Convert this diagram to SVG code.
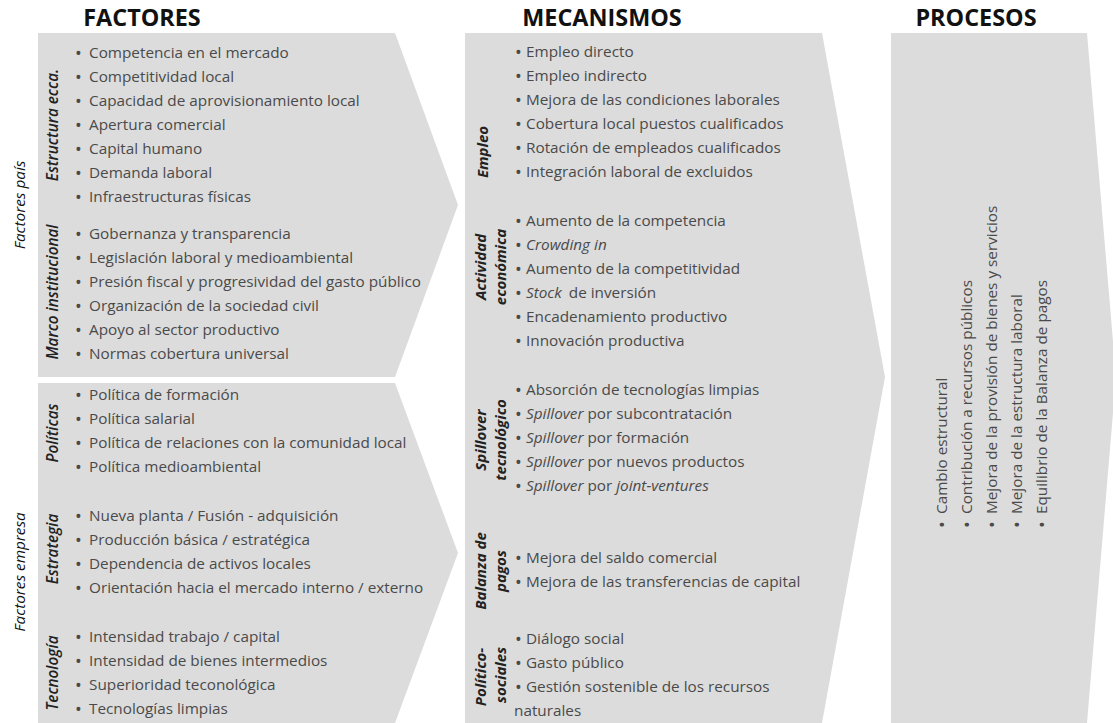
<svg xmlns="http://www.w3.org/2000/svg" width="1113" height="723" viewBox="0 0 1113 723">
<style>
text{font-family:"Open Sans","Liberation Sans",sans-serif}
.shape{fill:#dcdcdc}
.hdr{font-size:23.4px;font-weight:700;fill:#111;text-anchor:middle}
.it{font-size:15.3px;font-weight:500;fill:#4a4a4a}
.b{font-size:18px;baseline-shift:-2px}
.i{font-style:italic}
.grp{font-size:15.3px;font-style:italic;fill:#111;text-anchor:middle}
.sub{font-size:15.3px;font-style:italic;font-weight:600;fill:#222;text-anchor:middle}
.msub{font-size:15px;font-style:italic;font-weight:700;fill:#222;text-anchor:middle}
</style>
<rect width="1113" height="723" fill="#ffffff"/>

<g id="headers">
<text class="hdr" x="142" y="26">FACTORES</text>
<text class="hdr" x="602" y="26">MECANISMOS</text>
<text class="hdr" x="976" y="26">PROCESOS</text>
</g>

<g id="factores-pais">
<polygon class="shape" points="38,33 395,33 458,205 395,377 38,377"/>
<text class="grp" transform="translate(25,205) rotate(-90)">Factores país</text>
<text class="sub" transform="translate(58,125) rotate(-90)">Estructura ecca.</text>
<text class="sub" transform="translate(58,292) rotate(-90)">Marco institucional</text>
<g class="it">
<text y="58"><tspan x="75" class="b">•</tspan><tspan x="89">Competencia en el mercado</tspan></text>
<text y="82"><tspan x="75" class="b">•</tspan><tspan x="89">Competitividad local</tspan></text>
<text y="106"><tspan x="75" class="b">•</tspan><tspan x="89">Capacidad de aprovisionamiento local</tspan></text>
<text y="130"><tspan x="75" class="b">•</tspan><tspan x="89">Apertura comercial</tspan></text>
<text y="154"><tspan x="75" class="b">•</tspan><tspan x="89">Capital humano</tspan></text>
<text y="178"><tspan x="75" class="b">•</tspan><tspan x="89">Demanda laboral</tspan></text>
<text y="202"><tspan x="75" class="b">•</tspan><tspan x="89">Infraestructuras físicas</tspan></text>
<text y="239"><tspan x="75" class="b">•</tspan><tspan x="89">Gobernanza y transparencia</tspan></text>
<text y="263"><tspan x="75" class="b">•</tspan><tspan x="89">Legislación laboral y medioambiental</tspan></text>
<text y="287"><tspan x="75" class="b">•</tspan><tspan x="89">Presión fiscal y progresividad del gasto público</tspan></text>
<text y="311"><tspan x="75" class="b">•</tspan><tspan x="89">Organización de la sociedad civil</tspan></text>
<text y="335"><tspan x="75" class="b">•</tspan><tspan x="89">Apoyo al sector productivo</tspan></text>
<text y="359"><tspan x="75" class="b">•</tspan><tspan x="89">Normas cobertura universal</tspan></text>
</g>
</g>

<g id="factores-empresa">
<polygon class="shape" points="38,383 395,383 458,553 395,723 38,723"/>
<text class="grp" transform="translate(25,572) rotate(-90)">Factores empresa</text>
<text class="sub" transform="translate(58,433) rotate(-90)">Políticas</text>
<text class="sub" transform="translate(58,549) rotate(-90)">Estrategia</text>
<text class="sub" transform="translate(58,673) rotate(-90)">Tecnología</text>
<g class="it">
<text y="400"><tspan x="75" class="b">•</tspan><tspan x="89">Política de formación</tspan></text>
<text y="424"><tspan x="75" class="b">•</tspan><tspan x="89">Política salarial</tspan></text>
<text y="448"><tspan x="75" class="b">•</tspan><tspan x="89">Política de relaciones con la comunidad local</tspan></text>
<text y="472"><tspan x="75" class="b">•</tspan><tspan x="89">Política medioambiental</tspan></text>
<text y="521"><tspan x="75" class="b">•</tspan><tspan x="89">Nueva planta / Fusión - adquisición</tspan></text>
<text y="545"><tspan x="75" class="b">•</tspan><tspan x="89">Producción básica / estratégica</tspan></text>
<text y="569"><tspan x="75" class="b">•</tspan><tspan x="89">Dependencia de activos locales</tspan></text>
<text y="593"><tspan x="75" class="b">•</tspan><tspan x="89">Orientación hacia el mercado interno / externo</tspan></text>
<text y="642"><tspan x="75" class="b">•</tspan><tspan x="89">Intensidad trabajo / capital</tspan></text>
<text y="666"><tspan x="75" class="b">•</tspan><tspan x="89">Intensidad de bienes intermedios</tspan></text>
<text y="690"><tspan x="75" class="b">•</tspan><tspan x="89">Superioridad teconológica</tspan></text>
<text y="714"><tspan x="75" class="b">•</tspan><tspan x="89">Tecnologías limpias</tspan></text>
</g>
</g>

<g id="mecanismos">
<polygon class="shape" points="465,33 822,33 885,377 822,723 465,723"/>
<text class="msub" transform="translate(488,152) rotate(-90)">Empleo</text>
<text class="msub" transform="translate(486,267) rotate(-90)">Actividad</text>
<text class="msub" transform="translate(506,267) rotate(-90)">económica</text>
<text class="msub" transform="translate(486,440) rotate(-90)">Spillover</text>
<text class="msub" transform="translate(506,440) rotate(-90)">tecnológico</text>
<text class="msub" transform="translate(486,571) rotate(-90)">Balanza de</text>
<text class="msub" transform="translate(506,571) rotate(-90)">pagos</text>
<text class="msub" transform="translate(486,677) rotate(-90)">Político-</text>
<text class="msub" transform="translate(506,675) rotate(-90)">sociales</text>
<g class="it">
<text y="57"><tspan x="515" class="b">•</tspan><tspan x="526">Empleo directo</tspan></text>
<text y="81"><tspan x="515" class="b">•</tspan><tspan x="526">Empleo indirecto</tspan></text>
<text y="105"><tspan x="515" class="b">•</tspan><tspan x="526">Mejora de las condiciones laborales</tspan></text>
<text y="129"><tspan x="515" class="b">•</tspan><tspan x="526">Cobertura local puestos cualificados</tspan></text>
<text y="153"><tspan x="515" class="b">•</tspan><tspan x="526">Rotación de empleados cualificados</tspan></text>
<text y="177"><tspan x="515" class="b">•</tspan><tspan x="526">Integración laboral de excluidos</tspan></text>
<text y="226"><tspan x="515" class="b">•</tspan><tspan x="526">Aumento de la competencia</tspan></text>
<text y="250"><tspan x="515" class="b">•</tspan><tspan x="526" class="i">Crowding in</tspan></text>
<text y="274"><tspan x="515" class="b">•</tspan><tspan x="526">Aumento de la competitividad</tspan></text>
<text y="298"><tspan x="515" class="b">•</tspan><tspan x="526" class="i">Stock</tspan><tspan dx="7">de inversión</tspan></text>
<text y="322"><tspan x="515" class="b">•</tspan><tspan x="526">Encadenamiento productivo</tspan></text>
<text y="346"><tspan x="515" class="b">•</tspan><tspan x="526">Innovación productiva</tspan></text>
<text y="395"><tspan x="515" class="b">•</tspan><tspan x="526">Absorción de tecnologías limpias</tspan></text>
<text y="419"><tspan x="515" class="b">•</tspan><tspan x="526" class="i">Spillover</tspan> por subcontratación</text>
<text y="443"><tspan x="515" class="b">•</tspan><tspan x="526" class="i">Spillover</tspan> por formación</text>
<text y="467"><tspan x="515" class="b">•</tspan><tspan x="526" class="i">Spillover</tspan> por nuevos productos</text>
<text y="491"><tspan x="515" class="b">•</tspan><tspan x="526" class="i">Spillover</tspan> por <tspan class="i">joint-ventures</tspan></text>
<text y="563"><tspan x="515" class="b">•</tspan><tspan x="526">Mejora del saldo comercial</tspan></text>
<text y="587"><tspan x="515" class="b">•</tspan><tspan x="526">Mejora de las transferencias de capital</tspan></text>
<text y="644"><tspan x="515" class="b">•</tspan><tspan x="526">Diálogo social</tspan></text>
<text y="668"><tspan x="515" class="b">•</tspan><tspan x="526">Gasto público</tspan></text>
<text y="692"><tspan x="515" class="b">•</tspan><tspan x="526">Gestión sostenible de los recursos</tspan></text>
<text y="716" x="514">naturales</text>
</g>
</g>

<g id="procesos">
<polygon class="shape" points="891,33 1087,33 1116,377 1087,723 891,723"/>
<g class="it">
<text transform="translate(947,528) rotate(-90)"><tspan x="0" class="b">•</tspan><tspan x="14">Cambio estructural</tspan></text>
<text transform="translate(972,528) rotate(-90)"><tspan x="0" class="b">•</tspan><tspan x="14">Contribución a recursos públicos</tspan></text>
<text transform="translate(997,528) rotate(-90)"><tspan x="0" class="b">•</tspan><tspan x="14">Mejora de la provisión de bienes y servicios</tspan></text>
<text transform="translate(1022,528) rotate(-90)"><tspan x="0" class="b">•</tspan><tspan x="14">Mejora de la estructura laboral</tspan></text>
<text transform="translate(1047,528) rotate(-90)"><tspan x="0" class="b">•</tspan><tspan x="14">Equilibrio de la Balanza de pagos</tspan></text>
</g>
</g>

<g id="connectors"></g>
</svg>
